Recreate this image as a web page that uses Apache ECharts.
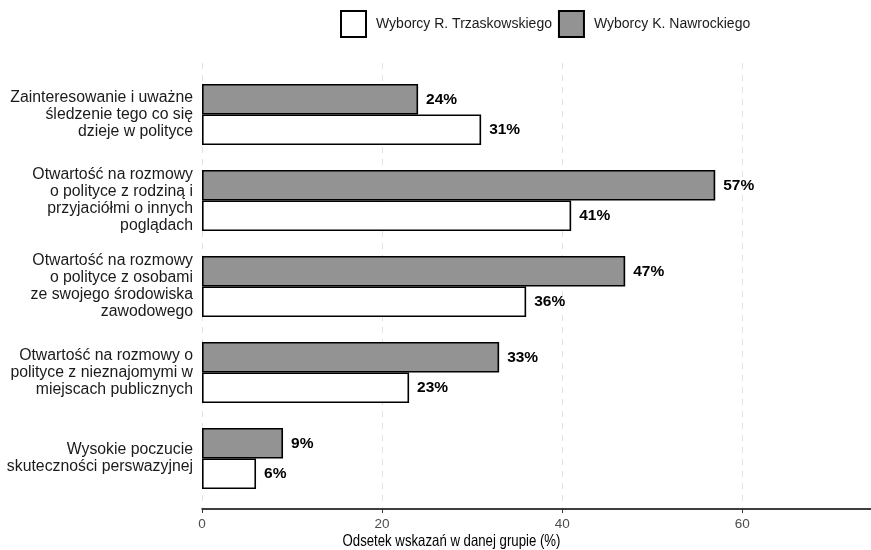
<!DOCTYPE html>
<html>
<head>
<meta charset="utf-8">
<script src="https://cdn.jsdelivr.net/npm/echarts@6/dist/echarts.min.js"></script>
<style>html,body{margin:0;padding:0;background:#fff}#c{width:871px;height:550px}</style>
</head>
<body>
<div id="c"></div>
<script>
const categories = [
  'Zainteresowanie i uważne\nśledzenie tego co się\ndzieje w polityce',
  'Otwartość na rozmowy\no polityce z rodziną i\nprzyjaciółmi o innych\npoglądach',
  'Otwartość na rozmowy\no polityce z osobami\nze swojego środowiska\nzawodowego',
  'Otwartość na rozmowy o\npolityce z nieznajomymi w\nmiejscach publicznych',
  'Wysokie poczucie\nskuteczności perswazyjnej'
];
const trzaskowski = [31, 41, 36, 23, 6];
const nawrocki = [24, 57, 47, 33, 9];
const xTicks = [0, 20, 40, 60];
const seriesNames = ['Wyborcy R. Trzaskowskiego', 'Wyborcy K. Nawrockiego'];

const chart = echarts.init(document.getElementById('c'), null, {renderer: 'canvas'});
const FONT = 'Liberation Sans, Arial, sans-serif';
const XMAX = 74.3;
const labelStyle = {show: true, position: 'right', distance: 8, formatter: '{c}%', color: '#000', fontWeight: 'bold', fontSize: 15.5, fontFamily: FONT};
chart.setOption({
  animation: false,
  backgroundColor: '#fff',
  legend: {
    data: seriesNames,
    top: 10, left: 340, padding: 0,
    itemWidth: 25, itemHeight: 26, itemGap: 6,
    icon: 'rect',
    textStyle: {fontSize: 14, fontFamily: FONT, color: '#1a1a1a', padding: [0, 0, 0, 5]}
  },
  grid: [
    {left: 202, right: 0, top: 71.5, height: 430, containLabel: false},
    {left: 202, right: 0, top: 63, height: 446, containLabel: false}
  ],
  xAxis: [
    {gridIndex: 0, type: 'value', min: 0, max: XMAX, show: false},
    {gridIndex: 1, type: 'value', min: 0, max: XMAX, interval: 20,
     axisLine: {show: true, lineStyle: {color: '#000', width: 1.5}},
     axisTick: {show: true, length: 4, lineStyle: {color: '#333'}},
     axisLabel: {showMaxLabel: false, color: '#4d4d4d', fontSize: 13.5, fontFamily: FONT, margin: 8},
     splitLine: {show: true, lineStyle: {color: '#e3e3e3', type: [6, 6], width: 1}}
    }
  ],
  yAxis: [
    {gridIndex: 0, type: 'category', data: categories, inverse: true,
     axisLine: {show: false}, axisTick: {show: false},
     axisLabel: {color: '#1a1a1a', fontSize: 15.8, fontFamily: FONT, lineHeight: 17, align: 'right', margin: 9, padding: [4, 0, 0, 0]}
    },
    {gridIndex: 1, type: 'value', min: 0, max: 1, show: false}
  ],
  series: [
    {name: seriesNames[1], type: 'bar', xAxisIndex: 0, yAxisIndex: 0, data: nawrocki,
     barWidth: 30.5, barGap: '0%',
     itemStyle: {color: '#939393', borderColor: '#000', borderWidth: 1.6},
     label: labelStyle},
    {name: seriesNames[0], type: 'bar', xAxisIndex: 0, yAxisIndex: 0, data: trzaskowski,
     barWidth: 30.5, barGap: '0%',
     itemStyle: {color: '#ffffff', borderColor: '#000', borderWidth: 1.6},
     label: labelStyle}
  ],
  graphic: [
    {type: 'text', x: 451.5, y: 541, scaleX: 0.8,
     style: {text: 'Odsetek wskazań w danej grupie (%)', align: 'center', verticalAlign: 'middle', textAlign: 'center', textVerticalAlign: 'middle',
             fontSize: 16.5, fontFamily: FONT, fill: '#000'}}
  ]
});
</script>
</body>
</html>
